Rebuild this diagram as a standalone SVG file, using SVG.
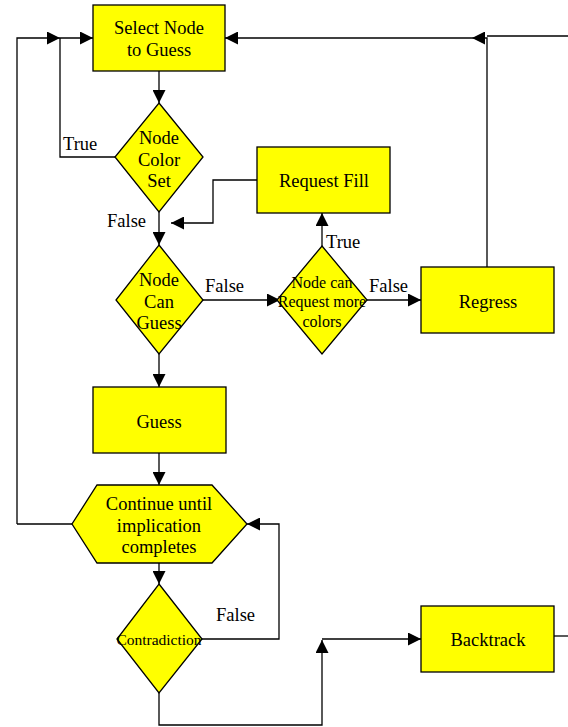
<svg xmlns="http://www.w3.org/2000/svg" width="568" height="727" viewBox="0 0 568 727" font-family="'Liberation Serif', 'Times New Roman', serif">
<defs>
<style>
.n{fill:#ffff00;stroke:#000;stroke-width:1.3}
.c{fill:none;stroke:#000;stroke-width:1.3}
</style>
<marker id="a" markerUnits="userSpaceOnUse" markerWidth="13" markerHeight="13" refX="13" refY="6.5" orient="auto">
<path d="M0,0 L13,6.5 L0,13 z" fill="#000"/>
</marker>
</defs>
<rect width="568" height="727" fill="#fff"/>
<g id="connectors">
<path class="c" d="M159,71 L159,103" marker-end="url(#a)"/>
<path class="c" d="M17,524 L17,38 L60,38" marker-end="url(#a)"/>
<path class="c" d="M60,38 L93,38" marker-end="url(#a)"/>
<path class="c" d="M115,157 L60,157 L60,38"/>
<path class="c" d="M487,267 L487,38 L472,38" marker-end="url(#a)"/>
<path class="c" d="M472,38 L225,38" marker-end="url(#a)"/>
<path class="c" d="M568,36 L487,36"/>
<path class="c" d="M257,180 L213,180 L213,223 L171,223" marker-end="url(#a)"/>
<path class="c" d="M159,212 L159,245" marker-end="url(#a)"/>
<path class="c" d="M203,300 L280,300" marker-end="url(#a)"/>
<path class="c" d="M322,246 L322,213" marker-end="url(#a)"/>
<path class="c" d="M367,300 L421,300" marker-end="url(#a)"/>
<path class="c" d="M159,354 L159,387" marker-end="url(#a)"/>
<path class="c" d="M159,453 L159,485" marker-end="url(#a)"/>
<path class="c" d="M72,524 L17,524"/>
<path class="c" d="M202,639 L279,639 L279,524 L247,524" marker-end="url(#a)"/>
<path class="c" d="M159,563 L159,584" marker-end="url(#a)"/>
<path class="c" d="M159,693 L159,725 L322,725 L322,640" marker-end="url(#a)"/>
<path class="c" d="M322,639 L421,639" marker-end="url(#a)"/>
<path class="c" d="M536,636 L568,636"/>
<g font-family="'Liberation Serif', 'Times New Roman', serif" font-size="18.5" fill="#000">
<text x="63" y="150">True</text>
<text x="107" y="227">False</text>
<text x="205" y="292">False</text>
<text x="326" y="248">True</text>
<text x="369" y="292">False</text>
<text x="216" y="621">False</text>
</g>
</g>
<g font-family="'Liberation Serif', 'Times New Roman', serif" font-size="18.5" fill="#000" text-anchor="middle">
<g id="select">
<rect class="n" x="93" y="5" width="132" height="66"/>
<text x="159" y="34">Select Node</text>
<text x="159" y="56">to Guess</text>
</g>
<g id="colorset">
<polygon class="n" points="159,103 203,157 159,212 115,157"/>
<text x="159" y="144">Node</text>
<text x="159" y="166">Color</text>
<text x="159" y="187">Set</text>
</g>
<g id="requestfill">
<rect class="n" x="257" y="147" width="133" height="66"/>
<text x="324" y="187">Request Fill</text>
</g>
<g id="canguess">
<polygon class="n" points="159,245 203,300 159,354 116,300"/>
<text x="159" y="286">Node</text>
<text x="159" y="308">Can</text>
<text x="159" y="329">Guess</text>
</g>
<g id="canrequest">
<polygon class="n" points="322,246 367,300 322,354 277,300"/>
<text x="322" y="288" font-size="16">Node can</text>
<text x="322" y="307" font-size="16">Request more</text>
<text x="322" y="327" font-size="16">colors</text>
</g>
<g id="regress">
<rect class="n" x="421" y="267" width="133" height="66"/>
<text x="488" y="308">Regress</text>
</g>
<g id="guess">
<rect class="n" x="93" y="387" width="133" height="66"/>
<text x="159" y="428">Guess</text>
</g>
<g id="continue">
<polygon class="n" points="97,485 212,485 247,524 212,563 97,563 72,524"/>
<text x="159" y="510">Continue until</text>
<text x="159" y="532">implication</text>
<text x="159" y="553">completes</text>
</g>
<g id="contradiction">
<polygon class="n" points="159,584 202,639 159,693 117,639"/>
<text x="159" y="645" font-size="15.5">Contradiction</text>
</g>
<g id="backtrack">
<rect class="n" x="421" y="606" width="133" height="66"/>
<text x="488" y="646">Backtrack</text>
</g>
</g>
</svg>
